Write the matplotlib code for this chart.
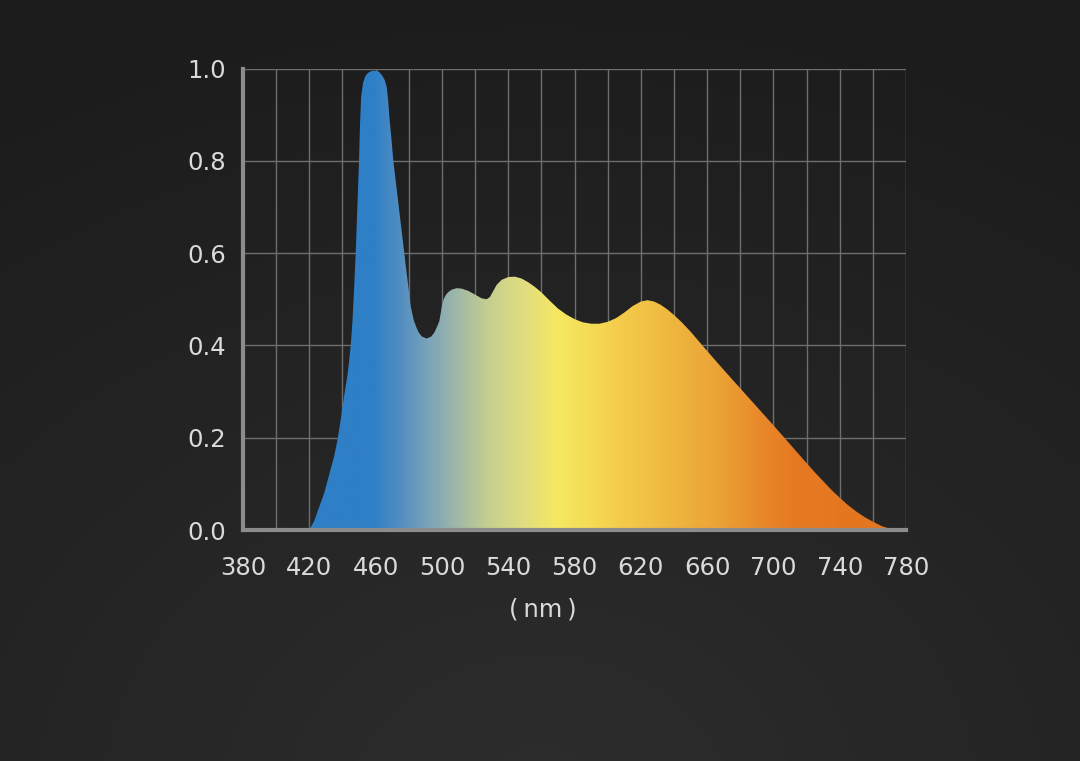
import numpy as np
import matplotlib.pyplot as plt
from matplotlib.colors import LinearSegmentedColormap
from matplotlib.patches import Polygon

plt.rcParams['font.family'] = ['DejaVu Sans']

#-------------------------------------------------
#Spectrum data, 10 values per row
#-------------------------------------------------
wavelength = [420, 423, 426, 429, 432, 435, 437, 439, 441, 443,
              444, 445, 446, 447, 448, 449, 450, 450.6, 451.3, 452.5,
              454, 456, 458, 460, 462, 464, 465.5, 466.7, 467.6, 468.3,
              469.5, 470.7, 473, 476.3, 478.4, 481.2, 483, 484.5, 486, 488,
              490.8, 493.5, 495.5, 497, 498.4, 499.3, 500, 501, 502.5, 504,
              506, 509, 512, 516, 520, 524, 527, 529, 531, 533,
              536, 540, 544, 548, 552, 556, 560, 565, 570, 575,
              580, 585, 590, 595, 600, 605, 610, 615, 620, 624,
              628, 632, 636, 640, 645, 650, 660, 670, 680, 690,
              700, 710, 720, 725, 730, 735, 740, 745, 750, 755,
              760, 765, 770, 774]
intensity = [0.0, 0.02, 0.05, 0.08, 0.12, 0.16, 0.195, 0.24, 0.29, 0.335,
             0.365, 0.40, 0.45, 0.52, 0.60, 0.70, 0.80, 0.88, 0.94, 0.97,
             0.985, 0.992, 0.995, 0.995, 0.993, 0.985, 0.975, 0.96, 0.93, 0.895,
             0.85, 0.80, 0.73, 0.63, 0.567, 0.484, 0.455, 0.44, 0.428, 0.419,
             0.415, 0.419, 0.428, 0.44, 0.452, 0.47, 0.485, 0.5, 0.51, 0.516,
             0.521, 0.524, 0.523, 0.518, 0.51, 0.502, 0.50, 0.505, 0.518, 0.531,
             0.542, 0.548, 0.549, 0.545, 0.537, 0.527, 0.515, 0.497, 0.48, 0.467,
             0.457, 0.45, 0.447, 0.447, 0.451, 0.459, 0.471, 0.485, 0.495, 0.498,
             0.495, 0.488, 0.478, 0.466, 0.449, 0.43, 0.388, 0.347, 0.307, 0.267,
             0.227, 0.186, 0.145, 0.125, 0.106, 0.087, 0.07, 0.054, 0.04, 0.028,
             0.018, 0.009, 0.003, 0.0]

# colour stops of the fill gradient along the wavelength axis
grad_nm = [380, 458, 473, 493, 509, 529, 549, 569, 589, 609, 637, 668, 692, 712, 748, 780]
grad_colors = ['#2e7fc6', '#2e7fc6', '#4f8cc2', '#7ea5b8', '#a0b8a6', '#c8d08e', '#e0dc80',
               '#f5e862', '#f6dc55', '#f4cb4a', '#efb840', '#eba235', '#e88a2a', '#e67a22',
               '#e4761f', '#e4761f']

x_ticks = [380, 420, 460, 500, 540, 580, 620, 660, 700, 740, 780]
x_grid = list(range(380, 781, 20))
y_ticks = [0.0, 0.2, 0.4, 0.6, 0.8, 1.0]
y_labels = ['0.0', '0.2', '0.4', '0.6', '0.8', '1.0']

#-------------------------------------------------
#Figure and dark radial background
#-------------------------------------------------
fig = plt.figure(figsize=(10.8, 7.61), dpi=100)
bg = fig.add_axes([0, 0, 1, 1])
bg.axis('off')
gx, gy = np.meshgrid(np.linspace(0, 1080, 270), np.linspace(0, 761, 190))
r = np.sqrt(((gx - 540) / 1.3) ** 2 + (gy - 800) ** 2) / 820
r = np.clip(r, 0, 1)
bg_cmap = LinearSegmentedColormap.from_list('bg', ['#2d2d2d', '#1c1c1c'])
bg.imshow(r, cmap=bg_cmap, extent=[0, 1, 0, 1], aspect='auto', origin='upper',
          vmin=0, vmax=1, interpolation='bicubic')
bg.set_xlim(0, 1)
bg.set_ylim(0, 1)

#-------------------------------------------------
#Main axes
#-------------------------------------------------
ax = fig.add_axes([243 / 1080, 1 - 530 / 761, 663 / 1080, 461.5 / 761])
ax.set_facecolor('none')
ax.set_xlim(380, 780)
ax.set_ylim(0, 1)

for xv in x_grid:
    ax.axvline(xv, color='#6e6e6e', lw=1.0, zorder=1)
for yv in y_ticks:
    ax.axhline(yv, color='#6e6e6e', lw=1.0, zorder=1)

# gradient fill clipped to the spectrum shape
stops = [(v - 380) / 400 for v in grad_nm]
spec_cmap = LinearSegmentedColormap.from_list('spec', list(zip(stops, grad_colors)))
grad = np.linspace(0, 1, 800).reshape(1, -1)
img = ax.imshow(grad, cmap=spec_cmap, extent=[380, 780, 0, 1], aspect='auto',
                origin='lower', zorder=2, interpolation='bilinear')
verts = list(zip(wavelength, intensity))
poly = Polygon(verts, closed=True, facecolor='none', edgecolor='none', transform=ax.transData)
ax.add_patch(poly)
img.set_clip_path(poly)

for side in ['top', 'right']:
    ax.spines[side].set_visible(False)
for side in ['left', 'bottom']:
    ax.spines[side].set_color('#8c8c8c')
    ax.spines[side].set_linewidth(3)
    ax.spines[side].set_zorder(3)

ax.set_xticks(x_ticks)
ax.set_xticklabels([str(t) for t in x_ticks])
ax.set_yticks(y_ticks)
ax.set_yticklabels(y_labels)
ax.tick_params(axis='both', length=0, labelsize=17.5, colors='#dadada')
ax.tick_params(axis='x', pad=19)
ax.tick_params(axis='y', pad=12)

fig.text(543 / 1080, 1 - 610 / 761, '(\u2009nm\u2009)', ha='center', va='center',
         fontsize=17.5, color='#dadada')

fig.savefig('out.png', dpi=100)
